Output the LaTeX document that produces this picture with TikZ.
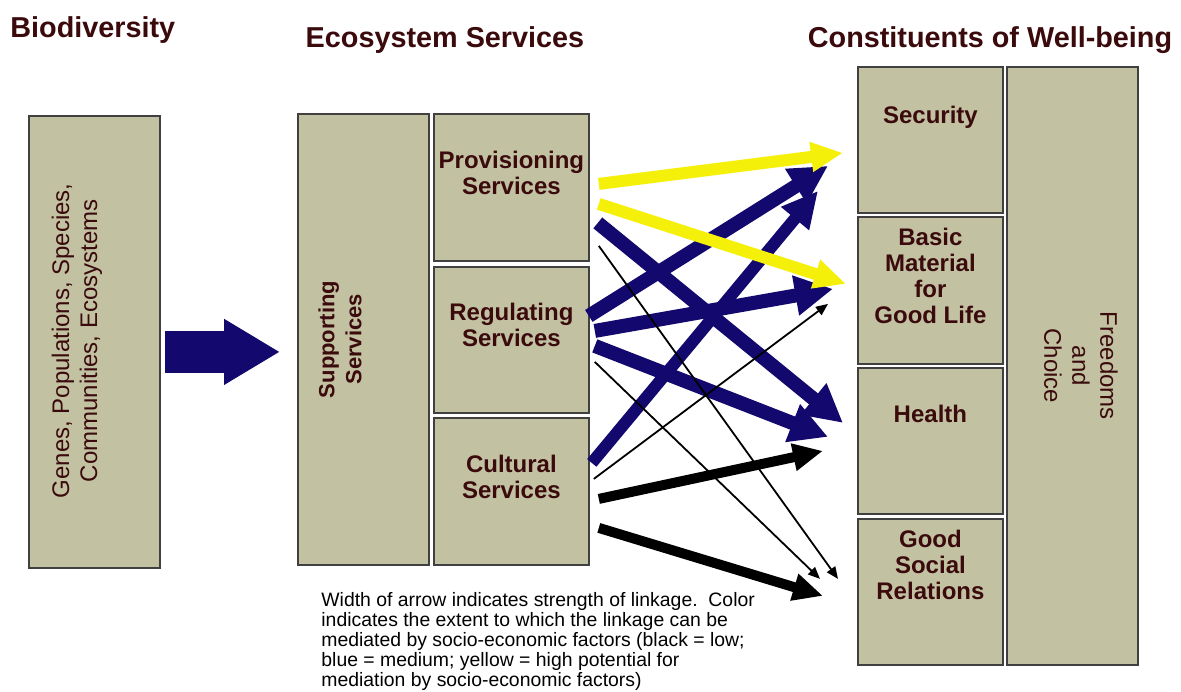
\documentclass[tikz,border=0pt]{standalone}
\usepackage{fontspec}
\setmainfont{Liberation Sans}
\usetikzlibrary{arrows.meta}
\definecolor{boxtan}{RGB}{194,194,163}
\definecolor{inkred}{RGB}{58,10,12}
\definecolor{navy}{RGB}{18,8,110}
\definecolor{lemon}{RGB}{245,240,10}
\begin{document}
\begin{tikzpicture}[x=0.5pt,y=-0.5pt,
    box/.style={draw=black!75,line width=0.9pt,fill=boxtan,inner sep=0pt,anchor=north west},
    lbl/.style={text=inkred,font=\fontsize{12}{13}\selectfont\bfseries,align=center,inner sep=0pt},
    head/.style={text=inkred,font=\fontsize{14.4}{16}\selectfont\bfseries,inner sep=0pt},
    yarrow/.style={lemon,line width=6pt,-{Triangle[width=14pt,length=16pt]}},
    barrow/.style={navy,line width=7pt,-{Triangle[width=19pt,length=19pt]}},
    karrow/.style={black,line width=5pt,-{Triangle[width=13pt,length=15pt]}},
    tarrow/.style={black,line width=0.9pt,-{Triangle[width=5pt,length=6pt]}}]
    \path[use as bounding box,fill=white] (0,0) rectangle (1181,691);
    % headings
    \node[head,anchor=base west] (h-bio) at (10,37) {Biodiversity};
    \node[head,anchor=base] (h-eco) at (445,47) {Ecosystem Services};
    \node[head,anchor=base] (h-well) at (990,47) {Constituents of Well-being};
    % biodiversity
    \node[box,minimum width=65.5pt,minimum height=226pt] (bio) at (28,115) {};
    \node[lbl,font=\fontsize{12}{14}\selectfont,rotate=90] (bio-t) at ([shift={(-17.5,-1)}]bio.center)
        {Genes, Populations, Species,\\Communities, Ecosystems};
    % ecosystem services
    \node[box,minimum width=65.5pt,minimum height=225.5pt] (sup) at (297,113) {};
    \node[lbl,font=\fontsize{11}{13.5}\selectfont\bfseries,rotate=90] (sup-t) at ([shift={(-23.5,0)}]sup.center)
        {Supporting\\Services};
    \node[box,minimum width=77.5pt,minimum height=73.5pt] (prov) at (433,113) {};
    \node[box,minimum width=77.5pt,minimum height=73pt] (reg) at (433,266) {};
    \node[box,minimum width=77.5pt,minimum height=73.5pt] (cult) at (433,417) {};
    \node[lbl] (prov-t) at ([shift={(0,-14.5)}]prov.center) {Provisioning\\Services};
    \node[lbl] (reg-t) at ([shift={(0,-15)}]reg.center) {Regulating\\Services};
    \node[lbl] (cult-t) at ([shift={(0,-14.5)}]cult.center) {Cultural\\Services};
    % constituents of well-being
    \node[box,minimum width=72.5pt,minimum height=73pt] (sec) at (857,66) {};
    \node[box,minimum width=72.5pt,minimum height=73.5pt] (basic) at (857,216) {};
    \node[box,minimum width=72.5pt,minimum height=73pt] (health) at (857,367) {};
    \node[box,minimum width=72.5pt,minimum height=73pt] (social) at (857,518) {};
    \node[box,minimum width=65.5pt,minimum height=299pt] (free) at (1006,66) {};
    \node[lbl] (sec-t) at ([shift={(0,-23)}]sec.center) {Security};
    \node[lbl] (basic-t) at ([shift={(0,-14.5)}]basic.center) {Basic\\Material\\for\\Good Life};
    \node[lbl] (health-t) at ([shift={(0,-27)}]health.center) {Health};
    \node[lbl] (social-t) at ([shift={(0,-27)}]social.center) {Good\\Social\\Relations};
    \node[lbl,font=\fontsize{12}{14}\selectfont,rotate=-90] (free-t) at ([shift={(8.5,0)}]free.center)
        {Freedoms\\and\\Choice};
    % biodiversity to services
    \draw[navy,line width=21pt,-{Triangle[width=31pt,length=28pt]}]
        ([shift={(4,10)}]bio.east) -- ([shift={(-17,12.5)}]sup.west);
    % linkages
    \draw[barrow] ([shift={(-1,-24)}]reg.east) -- ([shift={(-29,26)}]sec.west);
    \draw[barrow,line width=6pt,-{Triangle[width=17pt,length=18pt]}] ([shift={(2,-28.5)}]cult.east) -- ([shift={(-39,51)}]sec.west);
    \draw[barrow] ([shift={(8,35.5)}]prov.east) -- ([shift={(-14,-18)}]health.west);
    \draw[barrow] ([shift={(5,-9)}]reg.east) -- ([shift={(-24,-1.5)}]basic.west);
    \draw[barrow] ([shift={(5,6)}]reg.east) -- ([shift={(-29,-4)}]health.west);
    \draw[yarrow] ([shift={(9,-3.5)}]prov.east) -- ([shift={(-14,13)}]sec.west);
    \draw[yarrow] ([shift={(9,16.5)}]prov.east) -- ([shift={(-11,-6.5)}]basic.west);
    \draw[karrow] ([shift={(9,7.5)}]cult.east) -- ([shift={(-34,10)}]health.west);
    \draw[karrow] ([shift={(9,36.5)}]cult.east) -- ([shift={(-34,4)}]social.west);
    \draw[tarrow] ([shift={(9,58.5)}]prov.east) -- ([shift={(-19,-13)}]social.west);
    \draw[tarrow] ([shift={(5,22)}]reg.east) -- ([shift={(-37,-13)}]social.west);
    \draw[tarrow] ([shift={(4,-12.5)}]cult.east) -- ([shift={(-29,13.5)}]basic.west);
    % key
    \node[inner sep=0pt,anchor=north west,align=left,font=\fontsize{9.7}{10}\selectfont] (key) at (321,592)
        {Width of arrow indicates strength of linkage.\ \ Color\\
         indicates the extent to which the linkage can be\\
         mediated by socio-economic factors (black = low;\\
         blue = medium; yellow = high potential for\\
         mediation by socio-economic factors)};
\end{tikzpicture}
\end{document}
